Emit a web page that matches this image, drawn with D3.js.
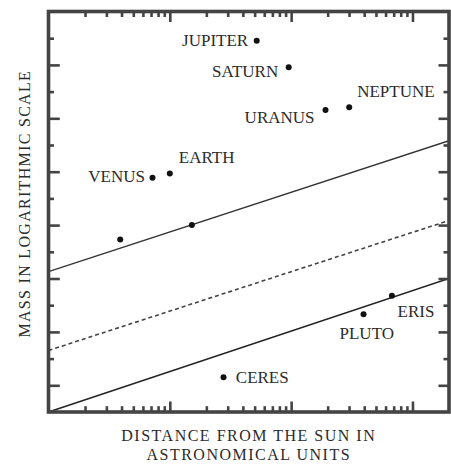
<!DOCTYPE html>
<html>
<head>
<meta charset="utf-8">
<script src="https://cdn.jsdelivr.net/npm/d3@7"></script>
<style>
  html, body { margin: 0; padding: 0; background: #fff; }
  svg { display: block; }
</style>
</head>
<body>
<svg id="chart" width="451" height="464"></svg>
<script>
// ---------------- data ----------------
const bodies      = ["MERCURY", "VENUS", "EARTH", "MARS", "CERES", "JUPITER", "SATURN", "URANUS", "NEPTUNE", "PLUTO", "ERIS"];
const distanceAU  = [0.39, 0.72, 1.0, 1.52, 2.77, 5.2, 9.54, 19.2, 30.1, 39.5, 67.7];
const massEarth   = [0.054, 0.77, 0.93, 0.10, 0.000141, 284, 90, 14.3, 16.1, 0.00214, 0.00476];
const labelled    = ["VENUS", "EARTH", "CERES", "JUPITER", "SATURN", "URANUS", "NEPTUNE", "PLUTO", "ERIS"];

// three parallel reference lines: [distance, mass] end points
const upperLine   = [[0.1, 0.0134], [200, 3.8]];
const dashedLine  = [[0.1, 0.000449], [200, 0.122]];
const lowerLine   = [[0.1, Math.pow(10, -4.5)], [200, 0.01]];

// tick values
const xMajorTicks = [1, 10, 100];
const xMinorTicks = [0.2,0.3,0.4,0.5,0.6,0.7,0.8,0.9, 2,3,4,5,6,7,8,9, 20,30,40,50,60,70,80,90];
const yMajorTicks = [1e-4, 1e-3, 1e-2, 1e-1, 1, 10, 100];
const yMinorTicks = [-3.5, -2.5, -1.5, -0.5, 0.5, 1.5, 2.5].map(e => Math.pow(10, e));

const xTitle = ["DISTANCE FROM THE SUN IN", "ASTRONOMICAL UNITS"];
const yTitle = "MASS IN LOGARITHMIC SCALE";

// ---------------- layout ----------------
const L = 48.5, R = 449, T = 11.5, B = 412;
const svg = d3.select("#chart");
const x = d3.scaleLog().domain([0.1, 200]).range([L, R]);
const y = d3.scaleLog().domain([Math.pow(10, -4.5), 1000]).range([B, T]);

const ink = "#444";
const textInk = "#2b2b2b";
const serif = "'Liberation Serif', 'DejaVu Serif', serif";

// label placement relative to its dot (anchor, dx, dy)
const labelPos = {
  JUPITER: ["end", -8.5, 5.3],
  SATURN:  ["end", -10.5, 10],
  URANUS:  ["end", -11, 12.7],
  VENUS:   ["end", -7.5, 4],
  NEPTUNE: ["start", 8, -10.6],
  EARTH:   ["start", 9, -10.6],
  PLUTO:   ["start", -24, 25],
  ERIS:    ["start", 5.6, 21],
  CERES:   ["start", 12.3, 6]
};

// clip
svg.append("defs").append("clipPath").attr("id", "plotclip")
  .append("rect").attr("x", L).attr("y", T).attr("width", R - L).attr("height", B - T);

// reference lines
const line = d3.line().x(d => x(d[0])).y(d => y(d[1]));
const lines = svg.append("g").attr("clip-path", "url(#plotclip)");
lines.append("path").attr("d", line(upperLine))
  .attr("fill", "none").attr("stroke", "#333").attr("stroke-width", 1.3);
lines.append("path").attr("d", line(dashedLine))
  .attr("fill", "none").attr("stroke", "#444").attr("stroke-width", 1.6)
  .attr("stroke-dasharray", "4,3");
lines.append("path").attr("d", line(lowerLine))
  .attr("fill", "none").attr("stroke", "#222").attr("stroke-width", 1.6);

// axes (ticks pointing inward)
function addAxis(axisFn, scale, values, size, transform) {
  const g = svg.append("g").attr("transform", transform)
    .call(axisFn(scale).tickValues(values).tickSize(-size).tickFormat(""));
  g.select(".domain").remove();
  g.selectAll(".tick line").attr("stroke", ink).attr("stroke-width", 2.6);
}
addAxis(d3.axisBottom, x, xMajorTicks, 10.5, `translate(0,${B})`);
addAxis(d3.axisBottom, x, xMinorTicks, 5.8, `translate(0,${B})`);
addAxis(d3.axisTop, x, xMajorTicks, 10.5, `translate(0,${T})`);
addAxis(d3.axisTop, x, xMinorTicks, 5.5, `translate(0,${T})`);
addAxis(d3.axisLeft, y, yMajorTicks, 11.3, `translate(${L},0)`);
addAxis(d3.axisLeft, y, yMinorTicks, 5.5, `translate(${L},0)`);
addAxis(d3.axisRight, y, yMajorTicks, 10.5, `translate(${R},0)`);
addAxis(d3.axisRight, y, yMinorTicks, 5.5, `translate(${R},0)`);

// frame
svg.append("rect").attr("x", L).attr("y", T).attr("width", R - L).attr("height", B - T)
  .attr("fill", "none").attr("stroke", ink).attr("stroke-width", 3.6);

// points
const pts = bodies.map((b, i) => ({ name: b, d: distanceAU[i], m: massEarth[i] }));
svg.append("g").selectAll("circle").data(pts).join("circle")
  .attr("cx", p => x(p.d)).attr("cy", p => y(p.m)).attr("r", 3)
  .attr("fill", "#111");

// labels
svg.append("g").selectAll("text").data(pts.filter(p => labelled.includes(p.name))).join("text")
  .attr("x", p => x(p.d) + labelPos[p.name][1])
  .attr("y", p => y(p.m) + labelPos[p.name][2])
  .attr("text-anchor", p => labelPos[p.name][0])
  .attr("font-family", serif).attr("font-size", 17).attr("fill", textInk)
  .text(p => p.name);

// axis titles
const cx = (L + R) / 2;
svg.append("text").attr("x", cx).attr("y", 440.5)
  .attr("text-anchor", "middle").attr("font-family", serif).attr("font-size", 16)
  .attr("letter-spacing", 1.5).attr("fill", textInk).text(xTitle[0]);
svg.append("text").attr("x", cx).attr("y", 460)
  .attr("text-anchor", "middle").attr("font-family", serif).attr("font-size", 16)
  .attr("letter-spacing", 1.5).attr("fill", textInk).text(xTitle[1]);
svg.append("text").attr("transform", `translate(30,${203.7}) rotate(-90)`)
  .attr("text-anchor", "middle").attr("font-family", serif).attr("font-size", 16)
  .attr("letter-spacing", 1.3).attr("fill", textInk).text(yTitle);
</script>
</body>
</html>
